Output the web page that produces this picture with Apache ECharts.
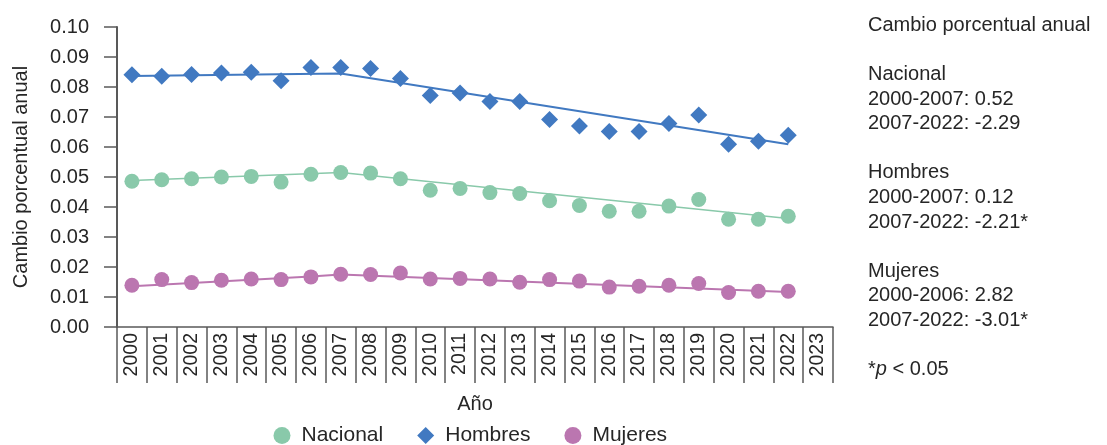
<!DOCTYPE html>
<html>
<head>
<meta charset="utf-8">
<script src="https://cdn.jsdelivr.net/npm/echarts@6/dist/echarts.min.js"></script>
<style>
  html, body { margin: 0; padding: 0; background: #fff; }
  #chart { width: 1107px; height: 445px; }
</style>
</head>
<body>
<div id="chart"></div>
<script>
// Tick labels for the year axis
const years = ['2000','2001','2002','2003','2004','2005','2006','2007','2008','2009','2010','2011',
               '2012','2013','2014','2015','2016','2017','2018','2019','2020','2021','2022','2023'];

// Observed rates per year
const nacional = [0.0486, 0.0491, 0.0494, 0.0500, 0.0502, 0.0483, 0.0509, 0.0515, 0.0513, 0.0494,
                  0.0456, 0.0462, 0.0448, 0.0445, 0.0421, 0.0405, 0.0386, 0.0386, 0.0403, 0.0425,
                  0.0359, 0.0359, 0.0369, null];
const hombres = [0.0841, 0.0836, 0.0842, 0.0847, 0.0849, 0.0821, 0.0865, 0.0865, 0.0862, 0.0828,
                 0.0772, 0.0780, 0.0752, 0.0752, 0.0692, 0.0670, 0.0652, 0.0652, 0.0678, 0.0707,
                 0.0609, 0.0619, 0.0639, null];
const mujeres = [0.0139, 0.0158, 0.0148, 0.0156, 0.0160, 0.0158, 0.0167, 0.0176, 0.0175, 0.0180,
                 0.0160, 0.0162, 0.0160, 0.0149, 0.0158, 0.0153, 0.0133, 0.0136, 0.0139, 0.0145,
                 0.0115, 0.0119, 0.0119, null];

// Joinpoint trend values (segment ends only)
const nacionalTrend = { '2000': 0.0488, '2007': 0.0515, '2022': 0.0362 };
const hombresTrend  = { '2000': 0.0837, '2007': 0.0845, '2022': 0.0609 };
const mujeresTrend  = { '2000': 0.0136, '2006': 0.0168, '2007': 0.0175, '2022': 0.0117 };

// Side panel text
const sideLines = [
  'Cambio porcentual anual', '',
  'Nacional', '2000-2007: 0.52', '2007-2022: -2.29', '',
  'Hombres', '2000-2007: 0.12', '2007-2022: -2.21*', '',
  'Mujeres', '2000-2006: 2.82', '2007-2022: -3.01*', '',
  '{star|*}{it|p}{star| < 0.05}'
];

const FONT = '"Liberation Sans", Arial, Helvetica, sans-serif';
const TEXT = '#262626';
const AXIS = '#595959';
const C_NAC = '#89C9AA';
const C_HOM = '#4179C1';
const C_MUJ = '#BB76B0';

function trendSeries(points) {
  return years.map(y => (y in points ? points[y] : null));
}

const chart = echarts.init(document.getElementById('chart'), null, { renderer: 'canvas' });

chart.setOption({
  animation: false,
  textStyle: { fontFamily: FONT, color: TEXT },
  grid: { left: 117, right: 274, top: 27, bottom: 118, containLabel: false },
  xAxis: {
    type: 'category',
    data: years,
    boundaryGap: true,
    name: 'Año',
    nameLocation: 'middle',
    nameGap: 67,
    nameTextStyle: { fontSize: 20, color: TEXT, fontFamily: FONT },
    axisLine: { lineStyle: { color: AXIS, width: 1.5 } },
    axisTick: { show: true, interval: 0, length: 56, lineStyle: { color: AXIS, width: 1.5 } },
    axisLabel: { interval: 0, rotate: 90, margin: 6, fontSize: 19.5, color: TEXT, fontFamily: FONT },
    splitLine: { show: false }
  },
  yAxis: {
    type: 'value',
    min: 0,
    max: 0.1,
    interval: 0.01,
    name: 'Cambio porcentual anual',
    nameLocation: 'middle',
    nameGap: 86,
    nameTextStyle: { fontSize: 20, color: TEXT, fontFamily: FONT },
    axisLine: { show: true, lineStyle: { color: AXIS, width: 2 } },
    axisTick: { show: true, length: 13, lineStyle: { color: AXIS, width: 1.5 } },
    axisLabel: { margin: 28, fontSize: 20, color: TEXT, fontFamily: FONT,
                 formatter: v => v.toFixed(2) },
    splitLine: { show: false }
  },
  legend: {
    left: 268.5,
    top: 420,
    itemWidth: 17,
    itemHeight: 17,
    itemGap: 34,
    textStyle: { fontSize: 21, color: TEXT, fontFamily: FONT, padding: [0, 0, 0, 6] },
    data: [
      { name: 'Nacional', icon: 'circle' },
      { name: 'Hombres', icon: 'diamond' },
      { name: 'Mujeres', icon: 'circle' }
    ]
  },
  graphic: [{
    type: 'text',
    left: 868,
    top: 13,
    style: {
      text: sideLines.join('\n'),
      font: '20px ' + FONT,
      fill: TEXT,
      lineHeight: 24.6,
      rich: {
        star: { fontSize: 20, fontFamily: FONT, fill: TEXT, lineHeight: 24.6 },
        it: { fontSize: 20, fontFamily: FONT, fontStyle: 'italic', fill: TEXT, lineHeight: 24.6 }
      }
    }
  }],
  series: [
    {
      name: 'Nacional trend', type: 'line', data: trendSeries(nacionalTrend),
      connectNulls: true, symbol: 'none', z: 1, silent: true,
      lineStyle: { color: C_NAC, width: 1.5 }
    },
    {
      name: 'Hombres trend', type: 'line', data: trendSeries(hombresTrend),
      connectNulls: true, symbol: 'none', z: 1, silent: true,
      lineStyle: { color: C_HOM, width: 2 }
    },
    {
      name: 'Mujeres trend', type: 'line', data: trendSeries(mujeresTrend),
      connectNulls: true, symbol: 'none', z: 1, silent: true,
      lineStyle: { color: C_MUJ, width: 2 }
    },
    {
      name: 'Nacional', type: 'scatter', data: nacional, symbol: 'circle', symbolSize: 15, z: 3,
      itemStyle: { color: C_NAC, opacity: 1 }
    },
    {
      name: 'Hombres', type: 'scatter', data: hombres, symbol: 'diamond', symbolSize: 17, z: 3,
      itemStyle: { color: C_HOM, opacity: 1 }
    },
    {
      name: 'Mujeres', type: 'scatter', data: mujeres, symbol: 'circle', symbolSize: 15, z: 3,
      itemStyle: { color: C_MUJ, opacity: 1 }
    }
  ]
});
</script>
</body>
</html>
